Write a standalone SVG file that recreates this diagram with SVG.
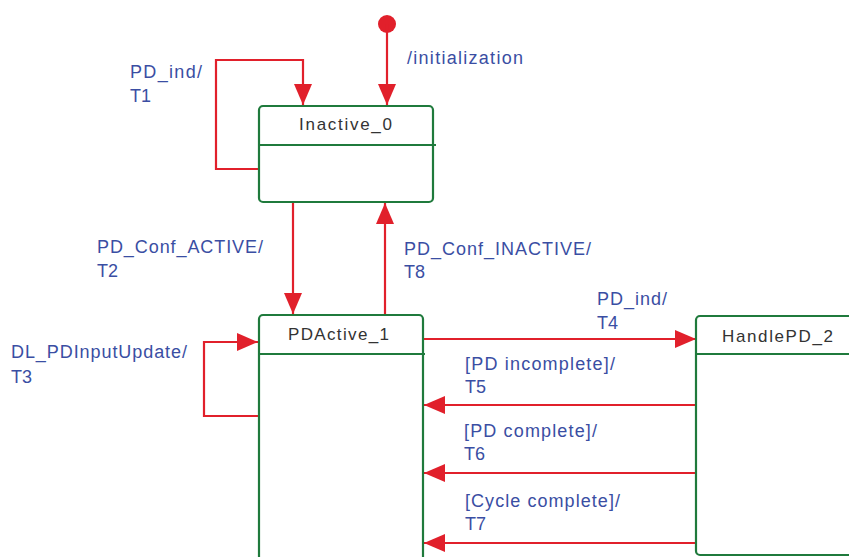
<svg xmlns="http://www.w3.org/2000/svg" width="849" height="557" viewBox="0 0 849 557">
<style>
.box{fill:#fff;stroke:#1f7a3c;stroke-width:2.2}
.div{stroke:#1f7a3c;stroke-width:2.2}
.name{font-family:"Liberation Sans",Arial,sans-serif;font-size:17px;fill:#333}
.lbl{font-family:"Liberation Sans",Arial,sans-serif;font-size:18px;fill:#3a4ea3}
.edge{fill:none;stroke:#e1202b;stroke-width:2.2}
</style>
<defs>
<marker id="ah" markerUnits="userSpaceOnUse" markerWidth="22" markerHeight="18" refX="21" refY="9" orient="auto">
<path d="M0,0 L21,9 L0,18 Z" fill="#e1202b"/>
</marker>
</defs>
<rect width="849" height="557" fill="#fff"/>
<g id="connectors">
<circle cx="387" cy="24" r="9" fill="#e1202b"/>
<path class="edge" d="M387,24 V105" marker-end="url(#ah)"/>
<path class="edge" d="M259,169 H216 V60 H303 V105" marker-end="url(#ah)"/>
<path class="edge" d="M293,202 V314" marker-end="url(#ah)"/>
<path class="edge" d="M385,315 V203" marker-end="url(#ah)"/>
<path class="edge" d="M259,416 H204 V342 H258" marker-end="url(#ah)"/>
<path class="edge" d="M423,339 H696" marker-end="url(#ah)"/>
<path class="edge" d="M696,405 H424" marker-end="url(#ah)"/>
<path class="edge" d="M696,473 H424" marker-end="url(#ah)"/>
<path class="edge" d="M696,543 H424" marker-end="url(#ah)"/>
</g>
<g id="labels">
<text class="lbl" x="407" y="64" textLength="116" lengthAdjust="spacing">/initialization</text>
<text class="lbl" x="130" y="78" textLength="72" lengthAdjust="spacing">PD_ind/</text>
<text class="lbl" x="130" y="102">T1</text>
<text class="lbl" x="97" y="253" textLength="166" lengthAdjust="spacing">PD_Conf_ACTIVE/</text>
<text class="lbl" x="97" y="277">T2</text>
<text class="lbl" x="404" y="255" textLength="187" lengthAdjust="spacing">PD_Conf_INACTIVE/</text>
<text class="lbl" x="404" y="278">T8</text>
<text class="lbl" x="11" y="358" textLength="176" lengthAdjust="spacing">DL_PDInputUpdate/</text>
<text class="lbl" x="11" y="383">T3</text>
<text class="lbl" x="597" y="305" textLength="70" lengthAdjust="spacing">PD_ind/</text>
<text class="lbl" x="597" y="329">T4</text>
<text class="lbl" x="465" y="370" textLength="150" lengthAdjust="spacing">[PD incomplete]/</text>
<text class="lbl" x="465" y="393">T5</text>
<text class="lbl" x="464" y="437" textLength="133" lengthAdjust="spacing">[PD complete]/</text>
<text class="lbl" x="464" y="460">T6</text>
<text class="lbl" x="465" y="507" textLength="155" lengthAdjust="spacing">[Cycle complete]/</text>
<text class="lbl" x="465" y="530">T7</text>
</g>
<g id="Inactive_0">
<rect class="box" x="259" y="106" width="174" height="96" rx="4"/>
<line class="div" x1="259" y1="145" x2="436" y2="145"/>
<text class="name" x="299" y="130" textLength="93" lengthAdjust="spacing">Inactive_0</text>
</g>
<g id="PDActive_1">
<rect class="box" x="259" y="315" width="164" height="260" rx="4"/>
<line class="div" x1="259" y1="354" x2="425" y2="354"/>
<text class="name" x="288" y="340" textLength="101" lengthAdjust="spacing">PDActive_1</text>
</g>
<g id="HandlePD_2">
<rect class="box" x="696" y="316" width="180" height="239" rx="4"/>
<line class="div" x1="696" y1="354" x2="849" y2="354"/>
<text class="name" x="722" y="342" textLength="111" lengthAdjust="spacing">HandlePD_2</text>
</g>
</svg>
